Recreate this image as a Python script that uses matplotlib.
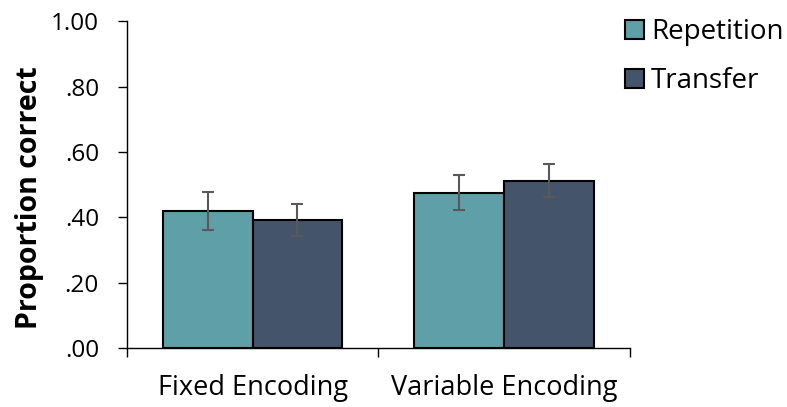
import matplotlib.pyplot as plt
import numpy as np

# datos
categorias = ["Fixed Encoding", "Variable Encoding"]
series = ["Repetition", "Transfer"]
repeticion = [0.419, 0.475]
transferencia = [0.392, 0.512]
err_rep = [0.057, 0.053]
err_tra = [0.050, 0.050]
colores = ["#5f9fa8", "#44546a"]

plt.rcParams['font.family'] = ['Open Sans', 'DejaVu Sans']

fig = plt.figure(figsize=(7.87, 4.07), dpi=100)
ax = fig.add_axes([0.161, 0.145, 0.6395, 0.803])

x = np.arange(len(categorias))
ancho = 0.357

ax.bar(x - ancho / 2, repeticion, ancho, color=colores[0], edgecolor="black",
       linewidth=1.5, label=series[0], zorder=2)
ax.bar(x + ancho / 2, transferencia, ancho, color=colores[1], edgecolor="black",
       linewidth=1.5, label=series[1], zorder=2)
ax.errorbar(x - ancho / 2, repeticion, yerr=err_rep, fmt="none", ecolor="#595959",
            elinewidth=1.5, capsize=4, capthick=1.5, zorder=3)
ax.errorbar(x + ancho / 2, transferencia, yerr=err_tra, fmt="none", ecolor="#595959",
            elinewidth=1.5, capsize=4, capthick=1.5, zorder=3)

ax.set_xlim(-0.5, 1.5)
ax.set_ylim(0, 1.0)
ax.set_yticks(np.arange(0, 1.01, 0.2))
ax.set_yticklabels(["1.00" if v >= 0.999 else ("%.2f" % v)[1:] for v in np.arange(0, 1.01, 0.2)])

ax.set_xticks(x)
ax.set_xticklabels(categorias)
ax.tick_params(axis="x", length=0, pad=19, labelsize=19.5)
ax.set_xticks([-0.5, 0.5, 1.5], minor=True)
ax.tick_params(axis="x", which="minor", length=6.5, width=1)
ax.tick_params(axis="y", length=6.5, width=1, labelsize=17.5, pad=13.5)

for s in ["top", "right"]:
    ax.spines[s].set_visible(False)
ax.spines["left"].set_linewidth(1)
ax.spines["bottom"].set_linewidth(1)

ax.set_ylabel("Proportion correct", fontsize=20.5, fontweight="bold")
ax.yaxis.set_label_coords(-0.165, 0.459)

fig.legend(loc="upper left", bbox_to_anchor=(0.7625, 1.017), frameon=False,
           fontsize=20, handlelength=0.68, handleheight=0.68, handletextpad=0.25,
           labelspacing=0.75)

fig.savefig("out.png", dpi=100)
